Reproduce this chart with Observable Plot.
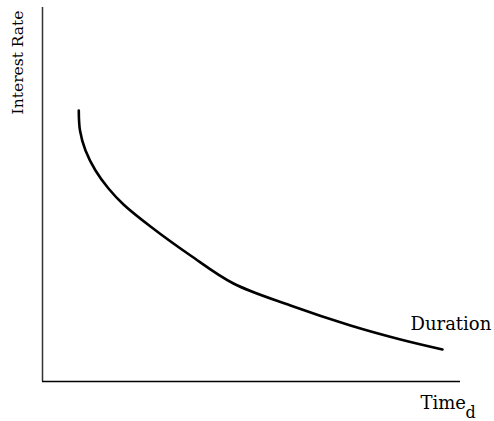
<!DOCTYPE html>
<html>
<head>
<meta charset="utf-8">
<script src="https://cdn.jsdelivr.net/npm/d3@7"></script>
<script src="https://cdn.jsdelivr.net/npm/@observablehq/plot@0.6"></script>
<style>
  html, body { margin: 0; padding: 0; background: #fff; }
  #chart svg { display: block; }
</style>
</head>
<body>
<div id="chart"></div>
<script>
// Curve: duration vs time (schematic, arbitrary units 0–10)
const curveX = [0.868, 0.897, 1.029, 1.268, 1.579, 1.938, 2.584, 3.541, 4.569, 5.933, 7.368, 8.565, 9.569];
const curveY = [7.246, 6.711, 6.176, 5.642, 5.160, 4.733, 4.144, 3.369, 2.620, 2.032, 1.497, 1.123, 0.856];
const curve = curveX.map((x, i) => ({x, y: curveY[i]}));

const yLabel = "Interest Rate";
const curveLabel = "Duration";
const xLabel = "Time";
const xLabelSub = "d";

const font = "DejaVu Serif";

const chart = Plot.plot({
  width: 494,
  height: 421,
  marginLeft: 42,
  marginRight: 34,
  marginTop: 7,
  marginBottom: 40,
  x: {domain: [0, 10], axis: null},
  y: {domain: [0, 10], axis: null},
  style: {fontFamily: font, background: "#fff"},
  marks: [
    Plot.ruleX([0], {stroke: "#333", strokeWidth: 1.5}),
    Plot.ruleY([0], {stroke: "#000", strokeWidth: 1.5}),
    Plot.line(curve, {x: "x", y: "y", curve: "catmull-rom", stroke: "#000", strokeWidth: 2.6}),
    Plot.text([yLabel], {frameAnchor: "top-left", text: d => d, rotate: -90, textAnchor: "end", lineAnchor: "middle", dx: -24.5, dy: 3, fontSize: 15.5, fill: "#000"}),
    Plot.text([curveLabel], {frameAnchor: "bottom-right", text: d => d, textAnchor: "start", lineAnchor: "middle", dx: -50, dy: -57, fontSize: 18, fill: "#000"}),
    Plot.text([xLabel], {frameAnchor: "bottom-right", text: d => d, textAnchor: "start", lineAnchor: "middle", dx: -40, dy: 22, fontSize: 18, fill: "#000"}),
    Plot.text([xLabelSub], {frameAnchor: "bottom-right", text: d => d, textAnchor: "start", lineAnchor: "middle", dx: 5, dy: 31, fontSize: 16, fill: "#000"})
  ]
});
document.getElementById("chart").appendChild(chart);
</script>
</body>
</html>
